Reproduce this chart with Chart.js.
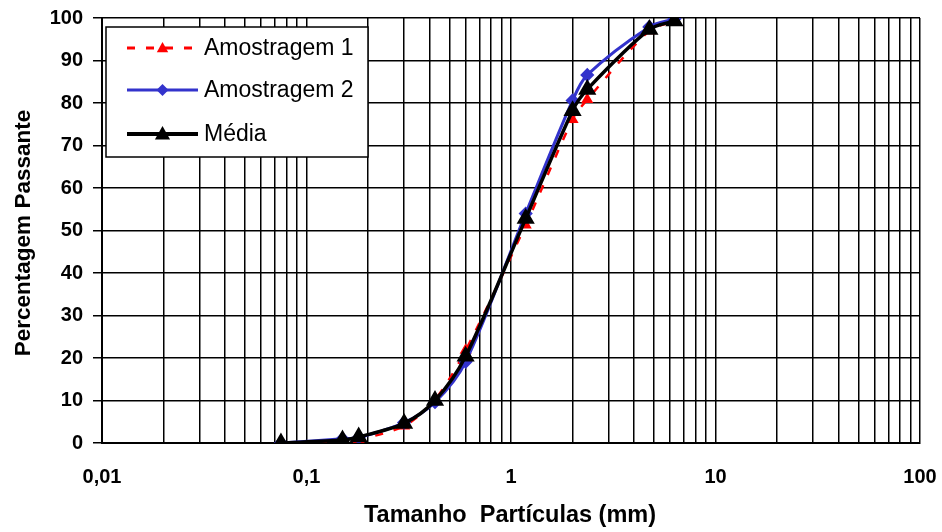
<!DOCTYPE html>
<html>
<head>
<meta charset="utf-8">
<script src="https://cdn.jsdelivr.net/npm/chart.js@4/dist/chart.umd.min.js"></script>
<style>
  html, body { margin: 0; padding: 0; background: #fff; }
  #chart { display: block; }
</style>
</head>
<body>
<canvas id="chart" width="942" height="532"></canvas>
<script>
// Curva granulométrica - peneiras (mm) e percentagem passante
const sizes  = [0.075, 0.15, 0.18, 0.3, 0.425, 0.6, 1.18, 2.0, 2.36, 4.75, 6.3];
const amostra1 = [0, 0.3, 0.8, 4.0, 10.2, 21.8, 51.3, 76.1, 80.8, 97.0, 99.2];
const amostra2 = [0, 1.0, 1.3, 4.8, 9.6, 19.1, 54.0, 80.6, 86.6, 97.9, 99.8];
const media    = [0, 0.7, 1.4, 4.6, 10.0, 20.4, 52.8, 78.2, 83.2, 97.3, 99.3];

const xDecades = [0.01, 0.1, 1, 10, 100];
const yTicks = [0, 10, 20, 30, 40, 50, 60, 70, 80, 90, 100];

const seriesNames = ['Amostragem 1', 'Amostragem 2', 'Média'];
const FONT = '"Liberation Sans", Arial, sans-serif';

function pts(values) {
  return sizes.map((s, i) => ({ x: s, y: values[i] }));
}

// minor + major grid positions for the log axis
function logTicks() {
  const out = [];
  for (let d = 0; d < xDecades.length - 1; d++) {
    for (let m = 1; m <= 9; m++) out.push({ value: +(m * xDecades[d]).toPrecision(6), major: m === 1 });
  }
  out.push({ value: xDecades[xDecades.length - 1], major: true });
  return out;
}

function drawMarker(ctx, style, x, y, r, color) {
  ctx.save();
  ctx.fillStyle = color;
  ctx.beginPath();
  if (style === 'triangle') {
    ctx.moveTo(x, y - r);
    ctx.lineTo(x + r * 0.95, y + r * 0.7);
    ctx.lineTo(x - r * 0.95, y + r * 0.7);
  } else {
    ctx.moveTo(x, y - r);
    ctx.lineTo(x + r, y);
    ctx.lineTo(x, y + r);
    ctx.lineTo(x - r, y);
  }
  ctx.closePath();
  ctx.fill();
  ctx.restore();
}

const legendItems = [
  { color: '#ff0000', dash: [8, 11], width: 3, marker: 'triangle', r: 6 },
  { color: '#3333cc', dash: [], width: 3, marker: 'diamond', r: 6 },
  { color: '#000000', dash: [], width: 4, marker: 'triangle', r: 8 }
];

const decorPlugin = {
  id: 'decor',
  afterDraw(chart) {
    const ctx = chart.ctx;
    ctx.save();
    // axis titles
    ctx.fillStyle = '#000';
    ctx.textAlign = 'center';
    ctx.textBaseline = 'middle';
    ctx.font = 'bold 23.5px ' + FONT;
    ctx.fillText('Tamanho  Partículas (mm)', 510, 516);
    ctx.save();
    ctx.font = 'bold 22.5px ' + FONT;
    ctx.translate(24, 233);
    ctx.rotate(-Math.PI / 2);
    ctx.fillText('Percentagem Passante', 0, 0);
    ctx.restore();

    // legend box
    ctx.fillStyle = '#fff';
    ctx.fillRect(106, 27, 262, 130);
    ctx.strokeStyle = '#000';
    ctx.lineWidth = 1.5;
    ctx.strokeRect(106, 27, 262, 130);
    const rows = [48, 90, 134];
    legendItems.forEach((it, i) => {
      const y = rows[i];
      ctx.save();
      ctx.strokeStyle = it.color;
      ctx.lineWidth = it.width;
      ctx.setLineDash(it.dash);
      ctx.beginPath();
      ctx.moveTo(127, y);
      ctx.lineTo(198, y);
      ctx.stroke();
      ctx.restore();
      drawMarker(ctx, it.marker, 162.5, y, it.r, it.color);
      ctx.fillStyle = '#000';
      ctx.font = '23px ' + FONT;
      ctx.textAlign = 'left';
      ctx.textBaseline = 'middle';
      ctx.fillText(seriesNames[i], 204, y + 1);
    });
    ctx.restore();
  }
};

new Chart(document.getElementById('chart'), {
  type: 'line',
  data: {
    datasets: [
      {
        label: seriesNames[0], data: pts(amostra1), order: 2,
        borderColor: '#ff0000', backgroundColor: '#ff0000', borderWidth: 2.5,
        borderDash: [8, 11], pointStyle: 'triangle', pointRadius: 4.5,
        tension: 0.3
      },
      {
        label: seriesNames[1], data: pts(amostra2), order: 1,
        borderColor: '#3333cc', backgroundColor: '#3333cc', borderWidth: 3,
        pointStyle: 'rectRot', pointRadius: 5,
        tension: 0.3
      },
      {
        label: seriesNames[2], data: pts(media), order: 0,
        borderColor: '#000000', backgroundColor: '#000000', borderWidth: 3.5,
        pointStyle: 'triangle', pointRadius: 7,
        tension: 0.3
      }
    ]
  },
  options: {
    responsive: false,
    animation: false,
    layout: { padding: { top: 18, right: 22, left: 0, bottom: 0 } },
    plugins: { legend: { display: false }, tooltip: { enabled: false } },
    elements: { point: { borderWidth: 0, hoverRadius: 0 } },
    scales: {
      x: {
        type: 'logarithmic',
        min: xDecades[0],
        max: xDecades[xDecades.length - 1],
        afterBuildTicks(scale) { scale.ticks = logTicks(); },
        afterFit(scale) {
          scale.height = 89;
          scale.paddingLeft = 0; scale.paddingRight = 0;
        },
        grid: { color: '#000', lineWidth: 1.5, drawTicks: false },
        border: { color: '#000', width: 2 },
        ticks: {
          autoSkip: false, maxRotation: 0, padding: 22,
          color: '#000', font: { family: FONT, size: 20, weight: 'bold' },
          callback(value) {
            return xDecades.includes(value) ? String(value).replace('.', ',') : '';
          }
        }
      },
      y: {
        min: 0, max: 100,
        afterBuildTicks(scale) { scale.ticks = yTicks.map(v => ({ value: v })); },
        afterFit(scale) {
          scale.width = 102;
          scale.paddingTop = 0; scale.paddingBottom = 0;
        },
        grid: { color: '#000', lineWidth: 1.5, tickLength: 9 },
        border: { color: '#000', width: 2 },
        ticks: {
          padding: 10, color: '#000',
          font: { family: FONT, size: 20, weight: 'bold' }
        }
      }
    }
  },
  plugins: [decorPlugin]
});
</script>
</body>
</html>
